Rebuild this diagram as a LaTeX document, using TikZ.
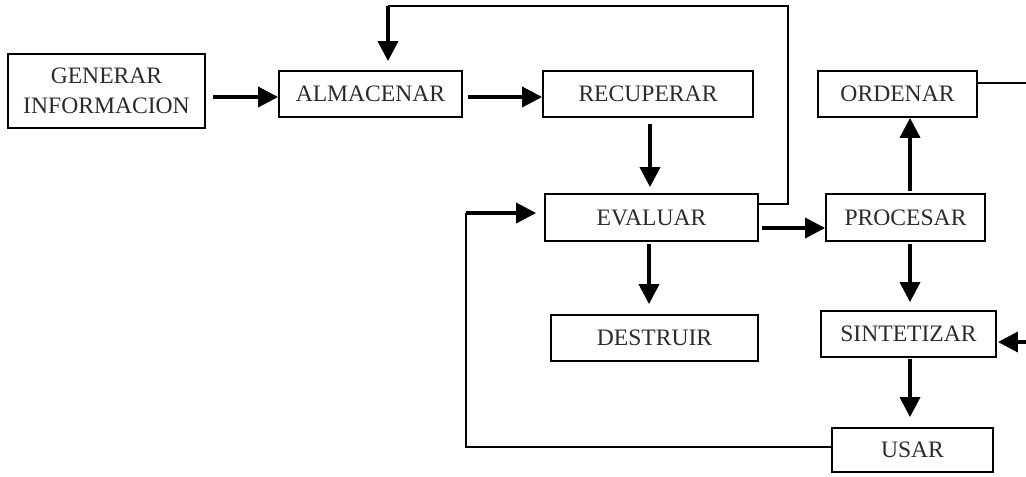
\documentclass[tikz,border=0pt]{standalone}
\usepackage{fontspec}
\setmainfont{Liberation Serif}
\usetikzlibrary{arrows.meta,calc}
\definecolor{ink}{HTML}{2B2B2B}
\begin{document}
\begin{tikzpicture}[x=0.5pt,y=-0.5pt,
  box/.style={draw=black, line width=0.9pt, inner sep=0pt, align=center,
    text=ink, font=\fontsize{11.8}{15}\selectfont},
  arr/.style={line width=1.8pt, -{Triangle[length=10pt,width=10pt]}},
  link/.style={line width=0.75pt}]
\useasboundingbox (0,0) rectangle (1026,476);

% boxes
\node[box, minimum width=98.5pt, minimum height=37pt] (gen) at (106.5,91) {GENERAR\\INFORMACION};
\node[box, minimum width=91.5pt, minimum height=23pt] (alm) at (370.5,94) {ALMACENAR};
\node[box, minimum width=105pt, minimum height=23pt] (rec) at (648,94) {RECUPERAR};
\node[box, minimum width=79.5pt, minimum height=23pt] (ord) at (897.5,94) {ORDENAR};
\node[box, minimum width=106.5pt, minimum height=23.5pt] (eva) at (651.5,217.5) {EVALUAR};
\node[box, minimum width=79.5pt, minimum height=23.5pt] (pro) at (905.5,217.5) {PROCESAR};
\node[box, minimum width=103.5pt, minimum height=23pt] (des) at (654.5,338) {DESTRUIR};
\node[box, minimum width=87.5pt, minimum height=23pt] (sin) at (908.5,334) {SINTETIZAR};
\node[box, minimum width=80.5pt, minimum height=22pt] (usa) at (912.5,450) {USAR};

% main flow
\draw[arr] ($(gen.east)+(7,6)$) -- ($(alm.west)+(0,3)$);
\draw[arr] ($(alm.east)+(5,3)$) -- ($(rec.west)+(0,3)$);
\draw[arr] ($(rec.south)+(2,6)$) -- ($(eva.north)+(-1.5,-6)$);
\draw[arr] ($(eva.east)+(3,10.5)$) -- ($(pro.west)+(0,10.5)$);
\draw[arr] ($(eva.south)+(-2.5,2)$) -- ($(des.north)+(-5.5,-10)$);
\draw[arr] ($(pro.north)+(4.5,-2)$) -- ($(ord.south)+(12.5,0)$);
\draw[arr] ($(pro.south)+(4.5,2)$) -- ($(sin.north)+(1.5,-8)$);
\draw[arr] ($(sin.south)+(1.5,1)$) -- ($(usa.north)+(-2.5,-10)$);

% feedback from EVALUAR back to ALMACENAR
\coordinate (tl) at ($(alm.north)+(17.5,-64)$);
\draw[link] ($(eva.east)+(0,-13.5)$) -- ++(29,0) |- (tl);
\draw[arr] ($(tl)+(0,-0.5)$) -- ($(alm.north)+(17.5,-9)$);

% feedback from USAR back to EVALUAR
\coordinate (bl) at ($(eva.west)+(-78,-4.5)$);
\draw[link] ($(usa.west)+(0,-3)$) -| (bl);
\draw[arr] ($(bl)+(-0.5,0)$) -- ($(eva.west)+(-8,-4.5)$);

% lines leaving and entering at the right side
\coordinate (oe) at ($(ord.east)+(49,-11)$);
\draw[link] ($(ord.east)+(0,-11)$) -- (oe);
\coordinate (se) at ($(sin.east)+(30,8)$);
\draw[arr] (se) -- ($(sin.east)+(1,8)$);
\end{tikzpicture}
\end{document}
